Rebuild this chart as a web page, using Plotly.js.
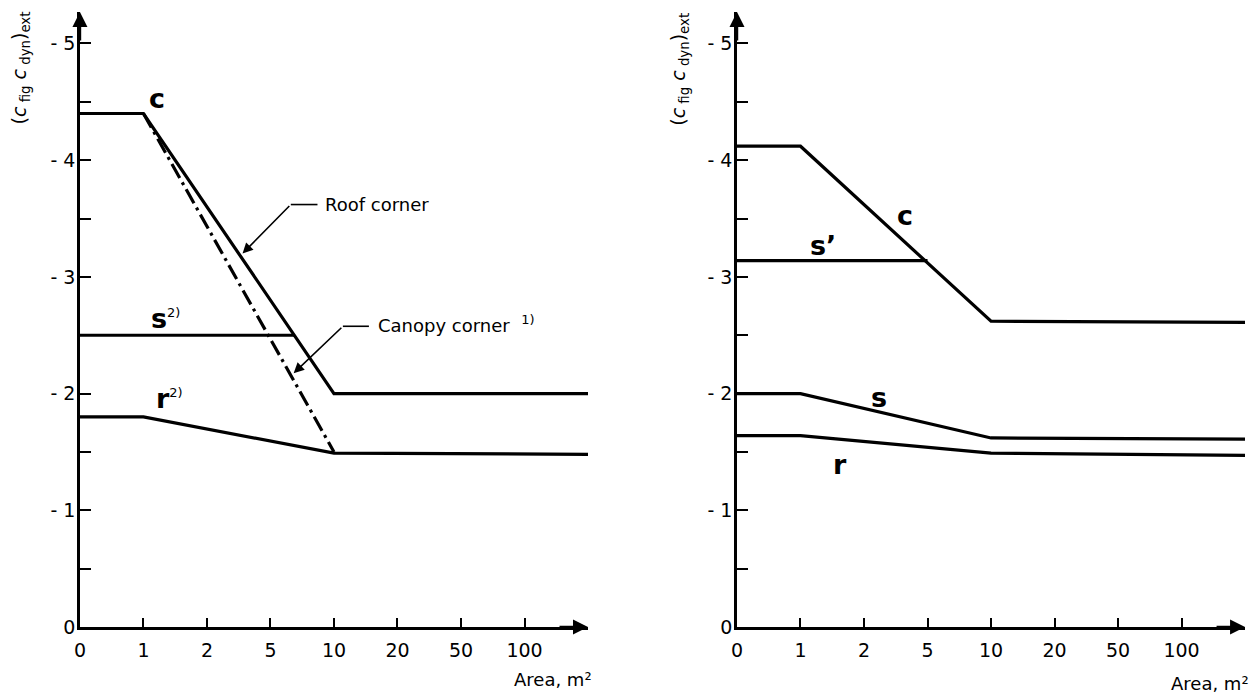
<!DOCTYPE html>
<html>
<head>
<meta charset="utf-8">
<script src="https://cdn.plot.ly/plotly-3.0.1.min.js"></script>
<style>html,body{margin:0;padding:0;background:#fff;}#chart{width:1257px;height:697px;}</style>
</head>
<body>
<div id="chart"></div>
<script>
// x axis is a stepped scale: each tick is one equal step
const areaTickLabels = ['0','1','2','5','10','20','50','100'];
const areaTickPos = [0,1,2,3,4,5,6,7];

const yTickVals = [0,-1,-2,-3,-4,-5];
const yTickText = ['0','- 1','- 2','- 3','- 4','- 5'];

// Left panel (positions on step scale; 3 = 5 m², 4 = 10 m², 8 = beyond 100)
const leftRoofX   = [0, 1, 4, 8];
const leftRoofY   = [-4.4, -4.4, -2.0, -2.0];
const leftCanopyX = [1, 4];
const leftCanopyY = [-4.4, -1.5];
const leftSX      = [0, 3.375];
const leftSY      = [-2.5, -2.5];
const leftRX      = [0, 1, 4, 8];
const leftRY      = [-1.8, -1.8, -1.49, -1.48];

// Right panel
const rightCX  = [0, 1, 4, 8];
const rightCY  = [-4.12, -4.12, -2.62, -2.61];
const rightS1X = [0, 3];
const rightS1Y = [-3.14, -3.14];
const rightSX  = [0, 1, 4, 8];
const rightSY  = [-2.0, -2.0, -1.62, -1.61];
const rightRX  = [0, 1, 4, 8];
const rightRY  = [-1.64, -1.64, -1.49, -1.47];

const FONT = 'DejaVu Sans, sans-serif';
const solid = {color:'#000', width:3.2};

function tr(x, y, xa, ya, line){
  return {x:x, y:y, xaxis:xa, yaxis:ya, mode:'lines', line:line, hoverinfo:'skip', showlegend:false};
}

const data = [
  tr(leftRoofX, leftRoofY, 'x', 'y', solid),
  tr(leftCanopyX, leftCanopyY, 'x', 'y', {color:'#000', width:3.2, dash:'16px,5px,3px,5px'}),
  tr(leftSX, leftSY, 'x', 'y', solid),
  tr(leftRX, leftRY, 'x', 'y', solid),
  tr(rightCX, rightCY, 'x2', 'y2', solid),
  tr(rightS1X, rightS1Y, 'x2', 'y2', solid),
  tr(rightSX, rightSY, 'x2', 'y2', solid),
  tr(rightRX, rightRY, 'x2', 'y2', solid)
];

function xaxis(dom, anchor){
  return {domain:dom, anchor:anchor, range:[0,8], tickvals:areaTickPos, ticktext:areaTickLabels,
    showline:true, linecolor:'#000', linewidth:2.5, ticks:'inside', ticklen:9, tickwidth:2, tickcolor:'#000',
    showgrid:false, zeroline:false, tickfont:{family:FONT, size:19, color:'#000'}, ticklabelstandoff:4, fixedrange:true};
}
function yaxis(anchor){
  return {domain:[0.1004,0.9828], anchor:anchor, range:[0,-5.27], tickvals:yTickVals, ticktext:yTickText,
    showline:true, linecolor:'#000', linewidth:2.5, ticks:'inside', ticklen:11, tickwidth:2, tickcolor:'#000',
    minor:{tickvals:[-0.5,-1.5,-2.5,-3.5,-4.5], ticks:'inside', ticklen:11, tickwidth:2, tickcolor:'#000', showgrid:false},
    showgrid:false, zeroline:false, tickfont:{family:FONT, size:19, color:'#000'}, ticklabelstandoff:-2, fixedrange:true};
}

const yTitle = '(<i>c</i><sub> fig</sub> <i>c</i><sub> dyn</sub>)<sub>ext</sub>';
function lbl(text, x, y, xr, yr, size, opts){
  return Object.assign({text:text, x:x, y:y, xref:xr, yref:yr, showarrow:false,
    xanchor:'center', yanchor:'middle',
    font:{family:FONT, size:size, color:'#000'}}, opts||{});
}
const sup = s => '<sup><span style="font-size:13px">' + s + '</span></sup>';
function arrow(x, y, xr, yr, ax, ay, axref, ayref, w, size){
  return {x:x, y:y, xref:xr, yref:yr, ax:ax, ay:ay, axref:axref, ayref:ayref, text:'', showarrow:true,
    arrowhead:2, arrowsize:size, arrowwidth:w, arrowcolor:'#000'};
}

const annotations = [
  // axis arrows
  arrow(8, 0, 'x', 'y', -30, 0, 'pixel', 'pixel', 2.5, 1.2),
  arrow(0, -5.27, 'x', 'y', 0, 30, 'pixel', 'pixel', 2.5, 1.2),
  arrow(8, 0, 'x2', 'y2', -30, 0, 'pixel', 'pixel', 2.5, 1.2),
  arrow(0, -5.27, 'x2', 'y2', 0, 30, 'pixel', 'pixel', 2.5, 1.2),
  // leader arrows
  arrow(2.56, -3.2, 'x', 'y', 3.32, -3.62, 'x', 'y', 1.6, 1.3),
  arrow(3.365, -2.175, 'x', 'y', 4.14, -2.577, 'x', 'y', 1.6, 1.3),
  // y titles
  lbl(yTitle, 0.0160, 0.902, 'paper', 'paper', 19, {textangle:-90}),
  lbl(yTitle, 0.541, 0.900, 'paper', 'paper', 19, {textangle:-90}),
  // x titles
  lbl('Area, m²', 0.440, 0.0244, 'paper', 'paper', 18),
  lbl('Area, m²', 0.9626, 0.020, 'paper', 'paper', 18),
  // left curve labels
  lbl('<b>c</b>', 1.216, -4.53, 'x', 'y', 27),
  lbl('<b>s</b>' + sup('2)'), 1.09, -2.64, 'x', 'y', 27, {xanchor:'left'}),
  lbl('<b>r</b>' + sup('2)'), 1.17, -1.96, 'x', 'y', 27, {xanchor:'left'}),
  // right curve labels
  lbl('<b>c</b>', 2.64, -3.53, 'x2', 'y2', 27),
  lbl('<b>s’</b>', 1.12, -3.27, 'x2', 'y2', 27, {xanchor:'left'}),
  lbl('<b>s</b>', 2.23, -1.97, 'x2', 'y2', 27),
  lbl('<b>r</b>', 1.62, -1.39, 'x2', 'y2', 27),
  // leader texts
  lbl('Roof corner', 3.82, -3.62, 'x', 'y', 18, {xanchor:'left'}),
  lbl('Canopy corner  ' + sup('1)'), 4.66, -2.60, 'x', 'y', 18, {xanchor:'left'})
];

const shapes = [
  {type:'line', xref:'x', yref:'y', x0:3.74, x1:3.32, y0:-3.62, y1:-3.62, line:{color:'#000', width:1.6}},
  {type:'line', xref:'x', yref:'y', x0:4.55, x1:4.14, y0:-2.577, y1:-2.577, line:{color:'#000', width:1.6}}
];

const layout = {
  width:1257, height:697, margin:{l:0, r:0, t:0, b:0},
  paper_bgcolor:'#fff', plot_bgcolor:'#fff', showlegend:false,
  xaxis: xaxis([0.0636, 0.4678], 'y'),
  yaxis: yaxis('x'),
  xaxis2: xaxis([0.5863, 0.9905], 'y2'),
  yaxis2: yaxis('x2'),
  annotations:annotations, shapes:shapes
};

Plotly.newPlot('chart', data, layout, {displayModeBar:false});
</script>
</body>
</html>
